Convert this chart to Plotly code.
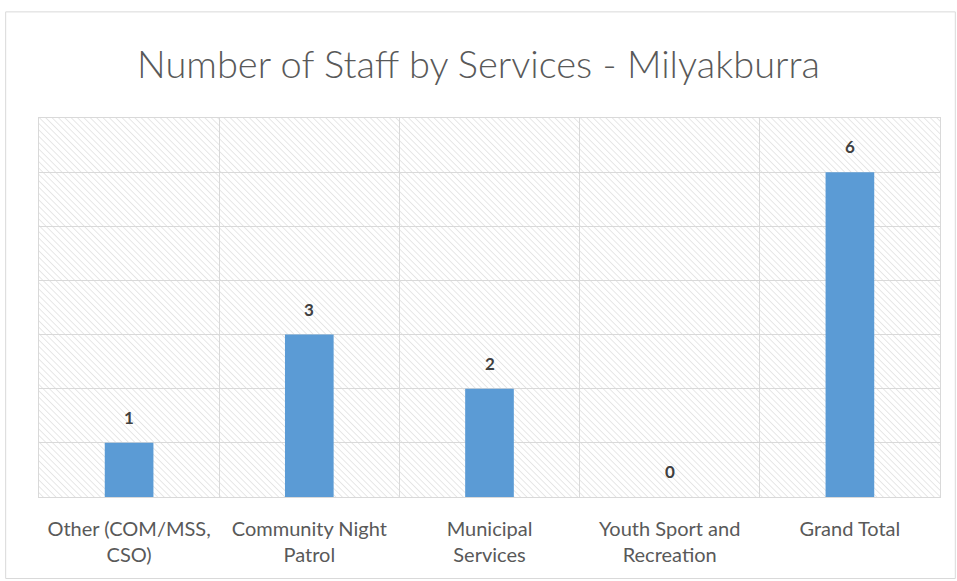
import plotly.graph_objects as go
import base64

categories = ["Other (COM/MSS,<br>CSO)", "Community Night<br>Patrol", "Municipal<br>Services",
              "Youth Sport and<br>Recreation", "Grand Total"]
staff = [1, 3, 2, 0, 6]

BAR = "#5B9BD5"
GRID = "#D9D9D9"
TXT = "#595959"
FONT = "Lato, 'Open Sans', sans-serif"

# subtle diagonal hatch background for plot area
svg = ('<svg xmlns="http://www.w3.org/2000/svg" width="901" height="379">'
       '<defs><pattern id="p" width="4.5" height="4.5" patternUnits="userSpaceOnUse" '
       'patternTransform="rotate(-45)"><rect width="4.5" height="4.5" fill="#ffffff"/>'
       '<line x1="0" y1="0" x2="0" y2="4.5" stroke="#e2e2e2" stroke-width="1.6"/></pattern></defs>'
       '<rect width="901" height="379" fill="url(#p)"/></svg>')
src = "data:image/svg+xml;base64," + base64.b64encode(svg.encode()).decode()

fig = go.Figure()
fig.add_trace(go.Bar(x=categories, y=staff, marker_color=BAR, width=0.27,
                     marker_line_width=0, hoverinfo="x+y"))

for c, v in zip(categories, staff):
    fig.add_annotation(x=c, y=v, text="<b>%d</b>" % v, showarrow=False,
                       yanchor="bottom", yshift=13,
                       font=dict(family=FONT, size=17, color="#404040"))

fig.update_layout(
    width=957, height=581,
    margin=dict(l=39, r=17, t=118, b=84),
    paper_bgcolor="white", plot_bgcolor="rgba(0,0,0,0)",
    showlegend=False,
    title=dict(text="Number of Staff by Services - Milyakburra", x=0.5, xanchor="center",
               y=0.888, yanchor="middle",
               font=dict(family=FONT, size=38, color=TXT, weight=300)),
    xaxis=dict(showgrid=True, gridcolor=GRID, gridwidth=1, tickson="boundaries",
               ticks="", showline=True, linecolor=GRID, mirror=True,
               tickfont=dict(family=FONT, size=20, color=TXT), ticklabelstandoff=14),
    yaxis=dict(range=[0, 7], dtick=1, showgrid=True, gridcolor=GRID, gridwidth=1,
               showticklabels=False, zeroline=False, showline=True, linecolor=GRID, mirror=True),
    images=[dict(source=src, xref="paper", yref="paper", x=0, y=1, sizex=1, sizey=1,
                 xanchor="left", yanchor="top", sizing="stretch", layer="below")],
    shapes=[dict(type="rect", xref="paper", yref="paper", x0=-0.037, x1=1.017,
                 y0=-0.215, y1=1.28, line=dict(color="#D9D9D9", width=1))],
    bargap=0.73,
)

fig.write_html("out.html")
